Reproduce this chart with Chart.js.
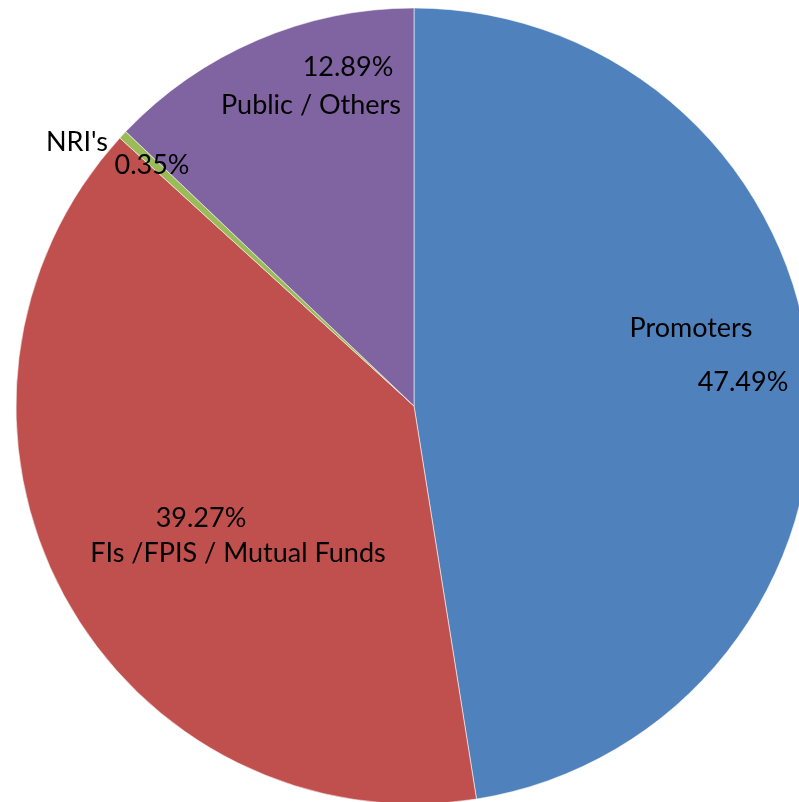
<!DOCTYPE html>
<html>
<head>
<meta charset="utf-8">
<script src="https://cdn.jsdelivr.net/npm/chart.js@4"></script>
<style>
  html, body { margin: 0; padding: 0; background: #fff; overflow: hidden; }
  #wrap { position: absolute; left: 0; top: 0; width: 828px; height: 812px; }
</style>
</head>
<body>
<div id="wrap"><canvas id="pie" width="828" height="812"></canvas></div>
<script>
// shareholding pattern
var categories = ["Promoters", "FIs /FPIS / Mutual Funds", "NRI's", "Public / Others"];
var shares = [47.49, 39.27, 0.35, 12.89];
var pct_labels = ["47.49%", "39.27%", "0.35%", "12.89%"];
var slice_colors = ["#4F81BD", "#C0504D", "#9BBB59", "#8064A2"];

// where each label sits, relative to pie centre (px at radius 398); name first, then percent
var label_spots = [
    { name: [277, -79], pct: [329, -25] },
    { name: [-176, 146], pct: [-213, 111] },
    { name: [-337, -265], pct: [-262, -242] },
    { name: [-103, -302], pct: [-66, -340] }
];

var sliceLabels = {
    id: 'sliceLabels',
    afterDatasetsDraw: function (chart) {
        var ctx = chart.ctx;
        var meta = chart.getDatasetMeta(0);
        ctx.save();
        ctx.font = '27px Lato, "Open Sans", sans-serif';
        ctx.fillStyle = '#000';
        ctx.textAlign = 'center';
        ctx.textBaseline = 'alphabetic';
        meta.data.forEach(function (arc, i) {
            var k = arc.outerRadius / 398;
            var spot = label_spots[i];
            // +10 moves from cap centre to baseline
            ctx.fillText(categories[i], arc.x + spot.name[0] * k, arc.y + spot.name[1] * k + 10);
            ctx.fillText(pct_labels[i], arc.x + spot.pct[0] * k, arc.y + spot.pct[1] * k + 10);
        });
        ctx.restore();
    }
};

var chart = new Chart(document.getElementById('pie'), {
    type: 'pie',
    data: {
        labels: categories,
        datasets: [{
            data: shares,
            backgroundColor: slice_colors,
            borderColor: 'rgba(255,255,255,0.55)',
            borderWidth: 1
        }]
    },
    options: {
        responsive: false,
        animation: false,
        radius: 398,
        layout: { padding: { top: 8, bottom: 8, left: 16, right: 16 } },
        plugins: {
            legend: { display: false },
            tooltip: { enabled: false }
        }
    },
    plugins: [sliceLabels]
});
</script>
</body>
</html>
